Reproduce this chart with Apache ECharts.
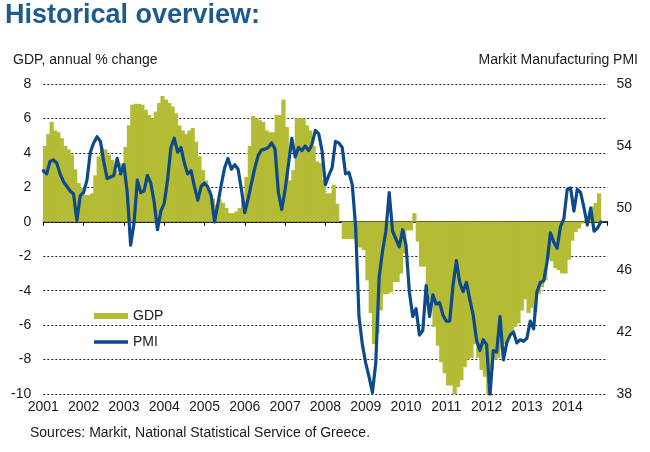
<!DOCTYPE html>
<html>
<head>
<meta charset="utf-8">
<script src="https://cdn.jsdelivr.net/npm/echarts@6/dist/echarts.min.js"></script>
<style>
html,body{margin:0;padding:0;background:#fff;}
#chart{width:650px;height:452px;}
</style>
</head>
<body>
<div id="chart"></div>
<script>
// ---- data (monthly, starting January 2001) ----
const startYear = 2001;
const yearLabels = ['2001','2002','2003','2004','2005','2006','2007','2008','2009','2010','2011','2012','2013','2014'];

// GDP, annual % change (left axis), Jan 2001 .. Oct 2014
const gdpValues = [
  4.4, 5.1, 5.8, 5.3, 5.2, 4.85, 4.4, 4.2, 3.9, 3.05, 2.25, 1.95,
  1.55, 1.55, 1.65, 2.7, 3.8, 4.3, 4.2, 3.9, 3.6, 3.0, 2.8, 3.4,
  4.35, 5.6, 6.8, 6.85, 6.85, 6.8, 6.5, 6.2, 6.0, 6.4, 6.9, 7.3,
  7.1, 6.9, 6.7, 6.3, 5.6, 5.3, 5.1, 5.3, 5.45, 4.65, 3.8, 3.0,
  2.4, 1.8, 1.35, 1.0, 1.3, 1.1, 0.8, 0.5, 0.5, 0.6, 0.8, 1.2,
  2.6, 4.4, 6.15, 6.0, 5.9, 5.8, 5.3, 5.2, 5.2, 6.2, 6.2, 7.1,
  5.5, 2.4, 3.0, 6.0, 6.0, 6.0, 5.6, 5.3, 4.4, 3.5, 3.4, 2.4,
  1.65, 1.65, 2.15, 1.05, 0, -1.0, -1.0, -1.0, -1.0, -1.45, -1.5, -1.65,
  -3.4, -5.3, -7.1, -6.5, -5.15, -4.2, -4.2, -4.1, -3.5, -3.5, -3.0, -1.85,
  -0.5, -0.5, 0.5, -1.15, -2.6, -2.6, -4.0, -4.55, -6.1, -7.2, -8.15, -8.8,
  -9.5, -9.5, -10, -9.6, -9.2, -8.45, -8.0, -7.9, -7.1, -7.9, -8.6, -9.0,
  -10, -8.6, -8.0, -7.9, -7.4, -7.1, -6.7, -6.5, -6.1, -5.9, -5.15, -4.5,
  -5.3, -5.0, -5.25, -4.2, -3.8, -3.4, -2.2, -2.3, -2.7, -2.8, -3.0, -3.0,
  -2.2, -1.1, -0.6, -0.4, -0.1, 0.1, 0.2, 0.9, 1.1, 1.65
];

// Markit Manufacturing PMI (right axis), Jan 2001 .. Nov 2014
const pmiValues = [
  52.4, 52.2, 53.0, 53.1, 52.9, 52.2, 51.7, 51.4, 51.1, 50.9, 49.2, 50.8,
  51.0, 51.8, 53.6, 54.2, 54.6, 54.3, 53.0, 51.9, 52.0, 52.1, 53.2, 52.2,
  52.8, 51.0, 47.6, 49.0, 51.8, 51.0, 51.1, 52.1, 51.6, 50.4, 48.6, 49.8,
  50.3, 51.8, 53.9, 54.5, 53.6, 53.9, 52.9, 52.2, 52.4, 51.4, 50.5, 51.4,
  51.6, 51.35, 50.8, 49.1, 50.3, 51.5, 52.6, 53.2, 52.5, 52.8, 52.5, 51.2,
  49.7, 50.6, 51.6, 52.6, 53.4, 53.75, 53.8, 53.9, 54.2, 53.8, 51.0, 49.9,
  51.2, 52.8, 54.5, 53.3, 53.9, 53.7, 54.0, 53.7, 54.1, 55.0, 54.8, 53.7,
  51.5, 52.1, 52.6, 54.3, 54.2, 53.9, 52.2, 52.3, 51.5, 48.8, 43.0, 41.2,
  40.0, 39.1, 38.1, 40.0, 45.5, 47.2, 48.5, 51.0, 48.5, 48.0, 47.5, 48.6,
  47.6, 44.6, 43.0, 43.5, 41.8, 42.1, 45.0, 43.0, 44.4, 43.8, 43.9, 43.1,
  42.7, 42.7, 45.0, 46.6, 45.2, 44.6, 45.2, 44.1, 43.1, 41.5, 40.8, 41.5,
  41.2, 37.9, 40.8, 40.7, 43.0, 40.2, 41.3, 41.8, 42.0, 41.3, 41.5, 41.4,
  41.6, 42.7, 42.2, 44.6, 45.2, 45.3, 46.5, 48.4, 47.8, 47.4, 48.8, 49.3,
  51.2, 51.3, 49.8, 51.2, 51.0, 50.0, 48.9, 50.0, 48.5, 48.7, 49.1
];

const leftTicks = { min: -10, max: 8, step: 2 };
const rightTicks = { min: 38, max: 58, step: 4 };

// ---- build series data ----
const gdpData = gdpValues.map((v, i) => [startYear + (i + 0.5) / 12, v]);
const pmiData = pmiValues.map((v, i) => [startYear + i / 12, v]);

const FONT = "'Liberation Sans', Arial, Helvetica, sans-serif";
const TXT = '#1a1a1a';

const chart = echarts.init(document.getElementById('chart'));
chart.setOption({
  animation: false,
  backgroundColor: '#ffffff',
  textStyle: { fontFamily: FONT },
  title: [
    { text: 'Historical overview:', left: 5, top: 2, padding: 0,
      textStyle: { fontFamily: FONT, fontSize: 27, fontWeight: 'bold', color: '#1D5B8F' } },
    { text: 'GDP, annual % change', left: 13, top: 53, padding: 0,
      textStyle: { fontFamily: FONT, fontSize: 14, fontWeight: 'normal', color: TXT } },
    { text: 'Markit Manufacturing PMI', right: 12, top: 53, padding: 0,
      textStyle: { fontFamily: FONT, fontSize: 14, fontWeight: 'normal', color: TXT } },
    { text: 'Sources: Markit, National Statistical Service of Greece.', left: 30, top: 426, padding: 0,
      textStyle: { fontFamily: FONT, fontSize: 14, fontWeight: 'normal', color: TXT } }
  ],
  legend: [
    { data: [{ name: 'GDP', icon: 'rect' }], left: 94, top: 309, orient: 'vertical',
      itemWidth: 34, itemHeight: 6, padding: 0,
      textStyle: { fontFamily: FONT, fontSize: 14, color: TXT } },
    { data: [{ name: 'PMI', icon: 'rect' }], left: 94, top: 335, orient: 'vertical',
      itemWidth: 34, itemHeight: 3.5, padding: 0,
      textStyle: { fontFamily: FONT, fontSize: 14, color: TXT } }
  ],
  grid: { left: 43.3, right: 42.5, top: 84, bottom: 58, containLabel: false },
  xAxis: [
    { type: 'value', position: 'bottom', min: 2001, max: 2015, interval: 1,
      axisLine: { show: false, onZero: false }, axisTick: { show: false },
      splitLine: { show: false },
      axisLabel: { margin: 6, fontFamily: FONT, fontSize: 14, color: TXT, showMaxLabel: false,
        formatter: v => { const i = Math.round(v) - startYear; return yearLabels[i] || ''; } } },
    { type: 'value', position: 'bottom', min: 2001, max: 2015, interval: 1,
      axisLine: { show: true, onZero: true, lineStyle: { color: '#000', width: 1.5 } },
      axisTick: { show: true, inside: false, length: 4, lineStyle: { color: '#000', width: 1 } },
      axisLabel: { show: false }, splitLine: { show: false } }
  ],
  yAxis: [
    { type: 'value', position: 'left', min: leftTicks.min, max: leftTicks.max, interval: leftTicks.step,
      axisLine: { show: false }, axisTick: { show: false },
      axisLabel: { margin: 12, fontFamily: FONT, fontSize: 14, color: TXT },
      splitLine: { show: true, lineStyle: { color: '#222', width: 1, type: [2, 2] } } },
    { type: 'value', position: 'right', min: rightTicks.min, max: rightTicks.max, interval: rightTicks.step,
      axisLine: { show: false }, axisTick: { show: false },
      axisLabel: { margin: 9, fontFamily: FONT, fontSize: 14, color: TXT },
      splitLine: { show: false } }
  ],
  series: [
    { name: 'GDP', type: 'bar', xAxisIndex: 1, yAxisIndex: 0, data: gdpData,
      barWidth: 4.2, itemStyle: { color: '#B4BB35' }, z: 1, silent: true },
    { name: 'PMI', type: 'line', xAxisIndex: 1, yAxisIndex: 1, data: pmiData,
      showSymbol: false, symbol: 'none',
      lineStyle: { color: '#0D4A8C', width: 3.2, join: 'round', cap: 'round' },
      itemStyle: { color: '#0D4A8C' }, z: 3, silent: true }
  ]
});
</script>
</body>
</html>
